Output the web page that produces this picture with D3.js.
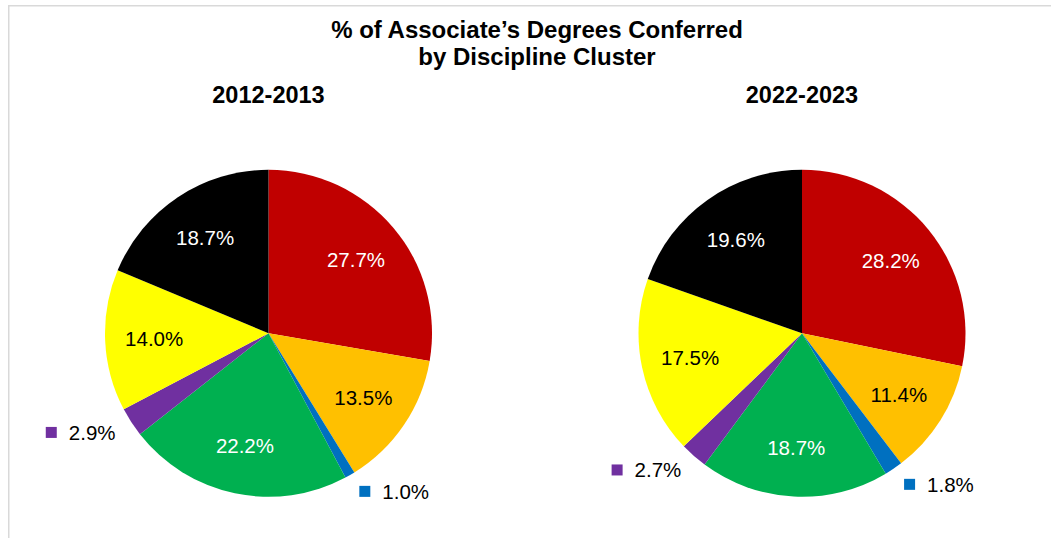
<!DOCTYPE html>
<html>
<head>
<meta charset="utf-8">
<script src="https://cdn.jsdelivr.net/npm/d3@7"></script>
<style>
  html, body { margin: 0; padding: 0; background: #ffffff; }
  svg { display: block; }
  text { font-family: "Liberation Sans", Arial, sans-serif; }
</style>
</head>
<body>
<svg id="chart" width="1051" height="538"></svg>
<script>
// ---- Data ----
const clusters = ["Cluster A", "Cluster B", "Cluster C", "Cluster D", "Cluster E", "Cluster F", "Cluster G"];
const clusterColors = ["#C00000", "#FFC000", "#0070C0", "#00B050", "#7030A0", "#FFFF00", "#000000"];
const values2012 = [27.7, 13.5, 1.0, 22.2, 2.9, 14.0, 18.7];
const values2022 = [28.2, 11.4, 1.8, 18.7, 2.7, 17.5, 19.6];
const periods = ["2012-2013", "2022-2023"];
const titleLines = ["% of Associate\u2019s Degrees Conferred", "by Discipline Cluster"];

// ---- Layout ----
const svg = d3.select("#chart");

// light frame
svg.append("rect")
  .attr("x", 8.75).attr("y", 5.75)
  .attr("width", 1100).attr("height", 600)
  .attr("fill", "none").attr("stroke", "#d9d9d9").attr("stroke-width", 1.5);

// title
svg.append("g").selectAll("text").data(titleLines).join("text")
  .attr("x", 537).attr("y", (d, i) => 38 + i * 27)
  .attr("text-anchor", "middle")
  .attr("font-size", "24px").attr("font-weight", "bold").attr("fill", "#000")
  .text(d => d);

const radius = 163.5;
const centersX = d3.scalePoint().domain(periods).range([268.5, 802]);
const centerY = 333.3;

const pie = d3.pie().sort(null).value(d => d.value);
const arc = d3.arc().innerRadius(0).outerRadius(radius);
const labelArc = d3.arc().innerRadius(radius * 0.7).outerRadius(radius * 0.7);
const outArc = d3.arc().innerRadius(radius * 1.115).outerRadius(radius * 1.115);

const darkText = new Set(["#FFC000", "#FFFF00"]);
const smallThreshold = 5;

[values2012, values2022].forEach((vals, pi) => {
  const data = clusters.map((c, i) => ({ name: c, value: vals[i], color: clusterColors[i] }));
  const cx = centersX(periods[pi]);

  svg.append("text")
    .attr("x", cx).attr("y", 103)
    .attr("text-anchor", "middle")
    .attr("font-size", "23.5px").attr("font-weight", "bold").attr("fill", "#000")
    .text(periods[pi]);

  const g = svg.append("g").attr("transform", `translate(${cx},${centerY})`);
  const arcs = pie(data);

  g.selectAll("path").data(arcs).join("path")
    .attr("d", arc)
    .attr("fill", d => d.data.color);

  // inside labels
  g.selectAll("text.inside").data(arcs.filter(d => d.data.value >= smallThreshold)).join("text")
    .attr("class", "inside")
    .attr("transform", d => `translate(${labelArc.centroid(d)})`)
    .attr("text-anchor", "middle")
    .attr("dy", "0.36em")
    .attr("font-size", "20.5px")
    .attr("fill", d => darkText.has(d.data.color) ? "#000" : "#fff")
    .text(d => d.data.value.toFixed(1) + "%");

  // outside labels with legend key
  arcs.filter(d => d.data.value < smallThreshold).forEach(d => {
    const [px, py] = outArc.centroid(d);
    const mid = (d.startAngle + d.endAngle) / 2;
    const right = mid < Math.PI;
    const lg = g.append("g");
    const t = lg.append("text")
      .attr("y", py).attr("dy", "0.36em")
      .attr("font-size", "20.5px").attr("fill", "#000")
      .text(d.data.value.toFixed(1) + "%");
    const tw = t.node().getComputedTextLength();
    const sq = 11, gap = 12;
    let sqX, tX;
    if (right) { sqX = px; tX = px + sq + gap; }
    else { tX = px - tw; sqX = tX - gap - sq; }
    t.attr("x", tX);
    lg.append("rect")
      .attr("x", sqX).attr("y", py - sq / 2)
      .attr("width", sq).attr("height", sq)
      .attr("fill", d.data.color);
  });
});
</script>
</body>
</html>
